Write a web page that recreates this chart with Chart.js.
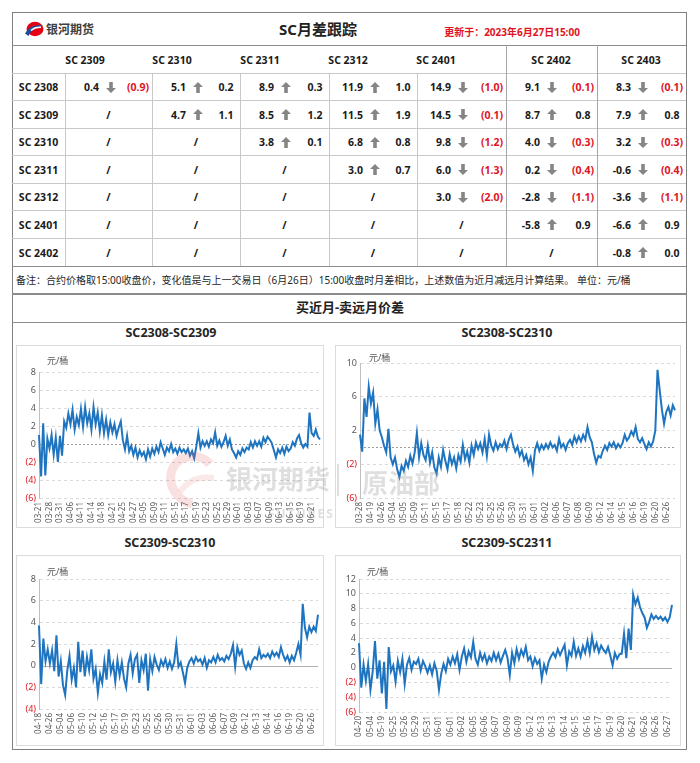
<!DOCTYPE html>
<html lang="zh-CN">
<head>
<meta charset="utf-8">
<title>SC月差跟踪</title>
<script src="https://cdn.jsdelivr.net/npm/chart.js"></script>
<style>
    html, body { margin: 0; padding: 0; background: #fff; }
    body {
        width: 700px; height: 763px; position: relative; overflow: hidden;
        font-family: "Noto Sans", "Noto Sans CJK SC", sans-serif; color: #1a1a1a;
    }
    #board { position: absolute; left: 0; top: 0; width: 700px; height: 763px; }
    .t { position: absolute; white-space: nowrap; line-height: 1; transform: translate(-50%, -50%); }
    .cell { font-size: 10.5px; font-weight: 700; }
    .neg { color: #e0141e; }
    .box { position: absolute; border: 1px solid #dcdcdc; background: #fff; }
    canvas { position: absolute; }
    .unit { position: absolute; font-size: 9px; color: #595959; line-height: 1; }
    .ctitle { font-size: 12.5px; font-weight: 700; color: #262626; }
    .wm { position: absolute; color: rgba(150, 150, 150, 0.3); font-weight: 700; line-height: 1; white-space: nowrap; z-index: 5; }
</style>
</head>
<body>
<div id="board">
    <!-- 外框 -->
    <div style="position:absolute;left:12px;top:12px;width:673px;height:736px;border:1px solid #808080;"></div>

    <!-- 标题行 -->
    <svg style="position:absolute;left:24px;top:21px;" width="20" height="16" viewBox="0 0 20 16">
        <ellipse cx="11" cy="8" rx="8.5" ry="7.2" fill="#e60012"/>
        <path d="M1 12.5 C5 5, 12 3.5, 19 4.5 C12 6.5, 7 9.5, 4.5 15 Z" fill="#1d4fa0"/>
        <path d="M7 9.5 C10 6.8, 13.5 6, 17 6.3" stroke="#fff" stroke-width="1.5" fill="none"/>
    </svg>
    <div class="t" style="left:70px;top:30px;font-size:12px;font-weight:700;color:#404040;">银河期货</div>
    <div class="t" style="left:318px;top:29px;font-size:15px;font-weight:700;color:#222;">SC月差跟踪</div>
    <div class="t" style="left:512px;top:32px;font-size:10px;font-weight:700;color:#e0141e;">更新于：2023年6月27日15:00</div>

    <!-- 备注行 / 分区标题 -->
    <div class="t" style="left:16px;top:280px;transform:translate(0,-50%);font-size:10px;color:#262626;">备注：合约价格取15:00收盘价，变化值是与上一交易日（6月26日）15:00收盘时月差相比，上述数值为近月减远月计算结果。 单位：元/桶</div>
    <div class="t" style="left:350px;top:307px;font-size:13px;font-weight:700;color:#222;">买近月-卖远月价差</div>

    <!-- 图表区 -->
    <div class="box" style="left:16px;top:345px;width:306px;height:181px;"></div>
    <div class="box" style="left:335px;top:345px;width:344px;height:181px;"></div>
    <div class="box" style="left:16px;top:555px;width:306px;height:189px;"></div>
    <div class="box" style="left:335px;top:555px;width:344px;height:189px;"></div>

    <div class="t ctitle" style="left:171px;top:333px;">SC2308-SC2309</div>
    <div class="t ctitle" style="left:507px;top:333px;">SC2308-SC2310</div>
    <div class="t ctitle" style="left:170px;top:543px;">SC2309-SC2310</div>
    <div class="t ctitle" style="left:507px;top:543px;">SC2309-SC2311</div>

    <canvas id="chart0809" width="307" height="185" style="left:16px;top:343px;"></canvas>
    <canvas id="chart0810" width="345" height="185" style="left:335px;top:343px;"></canvas>
    <canvas id="chart0910" width="307" height="185" style="left:16px;top:555px;"></canvas>
    <canvas id="chart0911" width="345" height="185" style="left:335px;top:555px;"></canvas>

    <div class="unit" style="left:47px;top:356px;">元/桶</div>
    <div class="unit" style="left:369px;top:353px;">元/桶</div>
    <div class="unit" style="left:47px;top:567px;">元/桶</div>
    <div class="unit" style="left:367px;top:567px;">元/桶</div>

    <!-- 水印 -->
    <svg style="position:absolute;left:166px;top:452px;z-index:5;" width="52" height="56" viewBox="0 0 52 56">
        <path d="M44 12 C34 0, 12 2, 6 18 C1 32, 10 48, 26 52" stroke="rgba(225,90,90,0.18)" stroke-width="9" fill="none"/>
        <path d="M14 40 C22 28, 34 24, 48 26" stroke="rgba(225,90,90,0.14)" stroke-width="6" fill="none"/>
    </svg>
    <div class="wm" style="left:226px;top:466px;font-size:26px;">银河期货</div>
    <div style="position:absolute;left:337px;top:464px;width:2px;height:32px;background:rgba(150,150,150,0.3);z-index:5;"></div>
    <div class="wm" style="left:362px;top:470px;font-size:26px;">原油部</div>
    <div class="wm" style="left:268px;top:508px;font-size:12px;letter-spacing:2px;">FUTURES</div>
</div>

<script>
// ===== 月差表数据 =====
const rowContracts = ['SC 2308', 'SC 2309', 'SC 2310', 'SC 2311', 'SC 2312', 'SC 2401', 'SC 2402'];
const colContracts = ['SC 2309', 'SC 2310', 'SC 2311', 'SC 2312', 'SC 2401', 'SC 2402', 'SC 2403'];

// 月差 (近月-远月), null 表示 "/"
const spreadLevels = [
    [0.4, 5.1, 8.9, 11.9, 14.9, 9.1, 8.3],
    [null, 4.7, 8.5, 11.5, 14.5, 8.7, 7.9],
    [null, null, 3.8, 6.8, 9.8, 4.0, 3.2],
    [null, null, null, 3.0, 6.0, 0.2, -0.6],
    [null, null, null, null, 3.0, -2.8, -3.6],
    [null, null, null, null, null, -5.8, -6.6],
    [null, null, null, null, null, null, -0.8]
];

// 与上一交易日相比的变化值
const spreadChanges = [
    [-0.9, 0.2, 0.3, 1.0, -1.0, -0.1, -0.1],
    [null, 1.1, 1.2, 1.9, -0.1, 0.8, 0.8],
    [null, null, 0.1, 0.8, -1.2, -0.3, -0.3],
    [null, null, null, 0.7, -1.3, -0.4, -0.4],
    [null, null, null, null, -2.0, -1.1, -1.1],
    [null, null, null, null, null, 0.9, 0.9],
    [null, null, null, null, null, null, 0.0]
];

// ===== 走势图数据 (每个日期标签之间 5 个点) =====
const dates0809 = ['03-21', '03-28', '03-31', '04-06', '04-11', '04-14', '04-18', '04-21', '04-25', '04-27',
    '05-05', '05-09', '05-11', '05-15', '05-17', '05-19', '05-23', '05-25', '05-29', '06-01',
    '06-03', '06-07', '06-09', '06-13', '06-15', '06-19', '06-21'];
const spread0809 = [
    1.0, -3.6, 2.3, -3.5, 0.6,   -0.5, 1.0, -1.2, 0.7, -2.0,   0.9, -1.3, 2.5, 1.8, 3.4,
    2.2, 3.8, 1.6, 3.0, 2.1,     3.9, 1.9, 4.1, 2.3, 3.4,      1.6, 4.1, 2.2, 3.5, 1.4,
    3.2, 1.2, 2.7, 1.0, 2.4,     1.3, 2.2, 0.9, 1.8, 2.5,      0.4, -0.6, 0.9, -0.8, -0.2,
    -1.2, -0.4, -1.5, -0.7, -1.3, -0.9, -1.7, -0.6, -1.4, -0.5, -1.1, -0.3, -0.9, 0.2, -0.5,
    -1.2, -0.4, -0.8, 0.0, -0.9, -0.5, -1.1, -0.4, -0.9, -0.6, -1.0, -0.5, -1.3, -0.8, -1.6,
    -0.3, 1.2, -0.4, 0.3, -0.2,  0.3, -0.3, 0.5, 0.1, 1.3,     -0.2, 0.4, -0.3, 0.2, 0.9,
    -0.2, 0.5, -0.6, -1.0, -1.5, -0.8, -1.2, -0.5, -0.9, -0.4, -0.6, 0.2, -0.4, 0.3, -0.2,
    0.3, -0.3, 0.7, 0.2, 0.8,    0.5, 0.1, -0.7, -1.5, -0.6,   -1.0, -0.4, -1.1, -0.3, -0.8,
    -0.5, 0.2, -0.2, 0.6, 1.0,   0.1, -0.4, 0.0, -0.3, 3.5,    1.2, 0.9, 1.6, 0.8, 0.5
];

const dates0810 = ['03-28', '04-19', '04-26', '05-04', '05-05', '05-09', '05-11', '05-15', '05-17', '05-18',
    '05-22', '05-23', '05-25', '05-26', '05-30', '05-31', '06-01', '06-02', '06-06', '06-07',
    '06-08', '06-09', '06-12', '06-14', '06-15', '06-16', '06-19', '06-20', '06-26'];
const spread0810 = [
    1.5, -0.5, 5.8, 3.6, 7.2,    5.2, 6.5, 2.8, 4.5, 2.0,      1.2, 0.2, -0.6, 2.2, -1.2,
    -2.0, -1.2, -2.6, -3.5, -2.2, -2.8, -1.6, -2.3, -1.0, -1.9, -0.6, 1.7, -1.2, 0.5, -0.9,
    -1.5, 0.2, -1.8, -0.6, -2.4, -3.1, -1.2, -2.3, -0.3, -1.6, -2.6, -0.8, -2.0, -1.2, -2.5,
    -0.9, -1.7, 0.3, -1.4, -0.5, -1.8, 0.2, -0.9, 0.6, -0.2,   0.5, -0.6, 1.0, -1.0, 1.5,
    0.2, -0.4, 0.6, -0.2, 0.4,   0.1, 0.8, -0.2, 0.9, 1.5,     0.3, -0.5, 0.1, -1.0, -0.4,
    -1.5, -0.9, -2.0, -1.2, -2.8, -0.3, 0.5, -0.4, 0.3, -0.2,  0.4, -0.1, 0.6, 0.0, 0.3,
    -0.4, 1.0, 0.0, 0.4, -0.3,   0.5, 0.9, 0.3, 1.3, 0.6,      1.3, 0.7, 1.5, 0.9, 2.4,
    1.2, 0.6, -0.8, -1.8, -1.0,  -1.2, -0.4, 0.2, -0.3, 0.5,   0.1, 0.6, -0.1, 0.4, 0.0,
    0.5, 1.5, 0.8, 1.2, 1.9,     1.4, 2.4, 1.0, 0.6, 1.1,      0.4, -0.2, 0.6, 0.1, 0.7,
    2.0, 9.2, 6.8, 4.5, 2.8,     4.2, 4.8, 3.8, 5.0, 4.4
];

const dates0910 = ['04-18', '04-26', '05-04', '05-06', '05-10', '05-12', '05-16', '05-17', '05-19', '05-23',
    '05-25', '05-26', '05-30', '05-31', '06-01', '06-03', '06-06', '06-07', '06-09', '06-12',
    '06-13', '06-14', '06-16', '06-19', '06-20', '06-26'];
const spread0910 = [
    3.7, -1.7, 2.5, 0.4, 1.5,    0.2, 1.4, -0.5, 2.8, -1.0,    0.4, -1.8, -2.7, -0.4, 0.9,
    -1.3, -0.2, -2.0, 2.2, -0.6, 1.4, -1.0, 0.8, -0.4, 1.5,    -1.2, -0.3, -2.5, -0.8, -1.6,
    0.4, -1.3, 1.5, -0.6, 0.2,   -1.5, 0.5, -0.9, 0.3, -1.2,   -2.0, 0.2, 1.0, -0.7, 0.6,
    1.0, -1.6, 0.5, -0.4, 1.1,   -2.3, 0.6, -0.5, 0.8, 0.1,    -0.4, 0.5, 0.0, 0.6, -0.2,
    0.4, -0.3, 0.3, 2.0, -0.1,   0.3, -0.6, -1.6, -0.2, 0.4,   0.7, 0.2, 0.8, 0.4, 0.6,
    0.1, 0.7, -0.2, 0.5, 0.3,    0.8, 0.3, 1.0, 0.5, 0.7,      0.4, 0.9, 0.6, 1.1, 1.9,
    -0.1, 1.7, 1.0, 1.4, 0.2,    -0.3, 0.3, -0.2, 0.5, 0.8,    0.6, 1.5, 0.7, 1.0, 0.8,
    1.1, 0.7, 1.3, 0.9, 1.2,     0.8, 1.7, 1.0, 0.5, 0.9,      0.3, 0.9, 0.5, 1.2, 2.0,
    1.0, 5.7, 3.5, 2.6, 3.6,     3.1, 3.6, 3.2, 4.7
];

const dates0911 = ['04-20', '05-04', '05-19', '05-25', '05-26', '05-29', '05-31', '06-01', '06-01', '06-02',
    '06-05', '06-06', '06-07', '06-09', '06-09', '06-12', '06-13', '06-13', '06-14', '06-15',
    '06-16', '06-17', '06-19', '06-20', '06-21', '06-26', '06-26', '06-27'];
const spread0911 = [
    3.3, -2.7, 0.4, -1.8, 0.5,   -3.0, -0.5, 3.6, -1.5, 1.0,   -3.5, 0.8, -5.6, 2.8, -0.5,
    0.3, -1.9, 0.9, -0.6, 1.2,   -2.2, 0.4, 1.3, -0.3, 0.8,    0.5, 1.2, -0.4, 0.9, 0.2,
    -0.7, 0.3, -0.9, 0.6, -0.4,  -3.0, -0.8, 0.5, -0.5, 1.2,   0.4, 1.5, 0.6, 1.8, -0.3,
    1.5, 2.6, 0.8, 2.2, 1.4,     3.5, 1.2, 0.4, 2.0, 1.0,      1.8, 0.6, 1.5, 0.9, 2.0,
    1.0, 1.9, 0.7, 1.6, 2.4,     1.3, -1.0, 2.0, 0.6, 2.5,     1.2, 2.4, 1.6, 2.8, 1.0,
    1.5, 0.2, 1.3, 0.5, 1.0,     -1.5, 0.4, -0.6, 0.8, 1.5,    2.0, 1.4, 2.5, 1.7, 2.4,
    3.1, 0.3, 2.2, 1.6, 3.5,     1.6, 2.6, 1.5, 2.9, 2.0,      3.6, 2.0, 4.2, 2.4, 3.3,
    2.1, 3.0, 2.4, 2.0, 2.8,     1.6, 0.3, 2.0, 1.2, 1.8,      1.9, 4.6, 1.3, 5.3, 2.4,
    9.9, 8.6, 9.5, 8.2, 7.4,     6.8, 5.4, 6.2, 7.2, 6.6,      7.0, 6.6, 6.9, 6.4, 6.8,
    6.2, 6.8, 8.5
];

const POINTS_PER_TICK = 5;
const board = document.getElementById('board');

/**
 * 在画板上放一段文字 (以 x,y 为中心)
 */
function addText(text, x, y, cls, align) {
    const d = document.createElement('div');
    d.className = 't ' + (cls || '');
    d.textContent = text;
    d.style.left = x + 'px';
    d.style.top = y + 'px';
    if (align === 'right') d.style.transform = 'translate(-100%, -50%)';
    board.appendChild(d);
    return d;
}

function addLine(x, y, w, h, color) {
    const d = document.createElement('div');
    d.style.cssText = `position:absolute;left:${x}px;top:${y}px;width:${w}px;height:${h}px;background:${color};`;
    board.appendChild(d);
}

// 灰色粗箭头
function addArrow(x, y, up) {
    const ns = 'http://www.w3.org/2000/svg';
    const svg = document.createElementNS(ns, 'svg');
    svg.setAttribute('width', '10');
    svg.setAttribute('height', '11');
    svg.style.cssText = `position:absolute;left:${x}px;top:${y - 5.5}px;`;
    const p = document.createElementNS(ns, 'polygon');
    p.setAttribute('points', up ? '5,0 10,5 6.8,5 6.8,11 3.2,11 3.2,5 0,5'
                                : '5,11 10,6 6.8,6 6.8,0 3.2,0 3.2,6 0,6');
    p.setAttribute('fill', '#858585');
    svg.appendChild(p);
    board.appendChild(svg);
}

function fmtChange(v) {
    return v < 0 ? '(' + Math.abs(v).toFixed(1) + ')' : v.toFixed(1);
}

/**
 * 画月差表
 */
function buildSpreadTable() {
    const colEdges = [12, 65, 152, 240, 329, 417, 506, 597, 686];
    const rowEdges = [73, 100, 128, 155, 183, 210, 238, 266];
    const headerX = [85, 172, 260, 348, 436, 551, 641];

    // 线
    addLine(12, 45, 674, 1, '#8c8c8c');
    addLine(12, 73, 674, 1, '#c8c8c8');
    for (let r = 1; r < rowEdges.length - 1; r++) addLine(12, rowEdges[r], 674, 1, '#c8c8c8');
    addLine(12, 266, 674, 1, '#8c8c8c');
    addLine(12, 293, 674, 2, '#8c8c8c');
    addLine(12, 322, 674, 1, '#8c8c8c');
    for (let c = 1; c <= 5; c++) addLine(colEdges[c], 73, 1, 193, '#c8c8c8');
    addLine(506, 45, 1, 221, '#a6a6a6');
    addLine(597, 45, 1, 221, '#a6a6a6');

    // 表头
    colContracts.forEach((name, c) => addText(name, headerX[c], 59.5, 'cell'));

    rowContracts.forEach((name, r) => {
        const cy = (rowEdges[r] + rowEdges[r + 1]) / 2 + 0.5;
        addText(name, 38.5, cy, 'cell');
        for (let c = 0; c < colContracts.length; c++) {
            const x0 = colEdges[c + 1];
            const x1 = colEdges[c + 2];
            const level = spreadLevels[r][c];
            if (level === null) {
                addText('/', (x0 + x1) / 2, cy, 'cell');
                continue;
            }
            const change = spreadChanges[r][c];
            addText(level.toFixed(1), x0 + 34, cy, 'cell', 'right');
            addArrow(x0 + 41, cy, change >= 0);
            addText(fmtChange(change), x1 - 14, cy, 'cell' + (change < 0 ? ' neg' : ''));
        }
    });
}

// 每 5 个点放一个日期标签
function buildLabels(tickDates, count) {
    const labels = [];
    for (let i = 0; i < count; i++) {
        labels.push(i % POINTS_PER_TICK === 0 ? (tickDates[i / POINTS_PER_TICK] || '') : '');
    }
    return labels;
}

// 零轴线
const zeroLinePlugin = {
    id: 'zeroLine',
    beforeDatasetsDraw(chart, args, opts) {
        const { ctx, chartArea, scales } = chart;
        const py = Math.round(scales.y.getPixelForValue(0)) + 0.5;
        ctx.save();
        ctx.strokeStyle = opts.color;
        ctx.lineWidth = 1;
        ctx.setLineDash(opts.dash || []);
        ctx.beginPath();
        ctx.moveTo(chartArea.left, py);
        ctx.lineTo(chartArea.right, py);
        ctx.stroke();
        ctx.restore();
    }
};

/**
 * 初始化一个价差走势图
 */
function initSpreadChart(canvasId, tickDates, values, yRange, frame) {
    const ctx = document.getElementById(canvasId);
    return new Chart(ctx, {
        type: 'line',
        data: {
            labels: buildLabels(tickDates, values.length),
            datasets: [{
                data: values,
                borderColor: '#1f74c0',
                borderWidth: 2,
                pointRadius: 0,
                tension: 0,
                fill: false
            }]
        },
        options: {
            responsive: false,
            animation: false,
            layout: { padding: { top: frame.top, right: frame.right, left: 0, bottom: 0 } },
            plugins: {
                legend: { display: false },
                tooltip: { enabled: false },
                zeroLine: { color: frame.zeroColor, dash: frame.zeroDash }
            },
            scales: {
                x: {
                    grid: { display: false, drawTicks: false },
                    border: { display: false },
                    ticks: {
                        autoSkip: false,
                        minRotation: 90,
                        maxRotation: 90,
                        padding: 4,
                        color: '#595959',
                        font: { size: 8 }
                    },
                    afterFit: s => {
                        s.height = frame.xHeight;
                        s.paddingLeft = 0;
                        s.paddingRight = 0;
                    }
                },
                y: {
                    min: yRange.min,
                    max: yRange.max,
                    ticks: {
                        stepSize: yRange.step,
                        padding: 3,
                        font: { size: 9 },
                        color: c => (c.tick && c.tick.value < 0) ? '#e0141e' : '#595959',
                        callback: v => v < 0 ? '(' + (-v) + ')' : String(v)
                    },
                    grid: {
                        drawTicks: false,
                        color: c => (c.tick && c.tick.value === 0) ? 'rgba(0,0,0,0)' : '#dadada'
                    },
                    border: { display: true, color: '#bfbfbf', dash: [3, 3] },
                    afterFit: s => { s.width = frame.yWidth; }
                }
            }
        },
        plugins: [zeroLinePlugin]
    });
}

Chart.defaults.font.family = '"Noto Sans", "Noto Sans CJK SC", sans-serif';

buildSpreadTable();

initSpreadChart('chart0809', dates0809, spread0809, { min: -6, max: 8, step: 2 },
    { top: 29, right: 3, yWidth: 23, xHeight: 30, zeroColor: '#9a9a9a', zeroDash: [2, 2] });
initSpreadChart('chart0810', dates0810, spread0810, { min: -6, max: 10, step: 4 },
    { top: 20, right: 5, yWidth: 25, xHeight: 30, zeroColor: '#9a9a9a', zeroDash: [2, 2] });
initSpreadChart('chart0910', dates0910, spread0910, { min: -4, max: 8, step: 2 },
    { top: 24, right: 5, yWidth: 23, xHeight: 31, zeroColor: '#b0b0b0', zeroDash: [] });
initSpreadChart('chart0911', dates0911, spread0911, { min: -6, max: 12, step: 2 },
    { top: 24, right: 8, yWidth: 24, xHeight: 28, zeroColor: '#b0b0b0', zeroDash: [] });
</script>
</body>
</html>
